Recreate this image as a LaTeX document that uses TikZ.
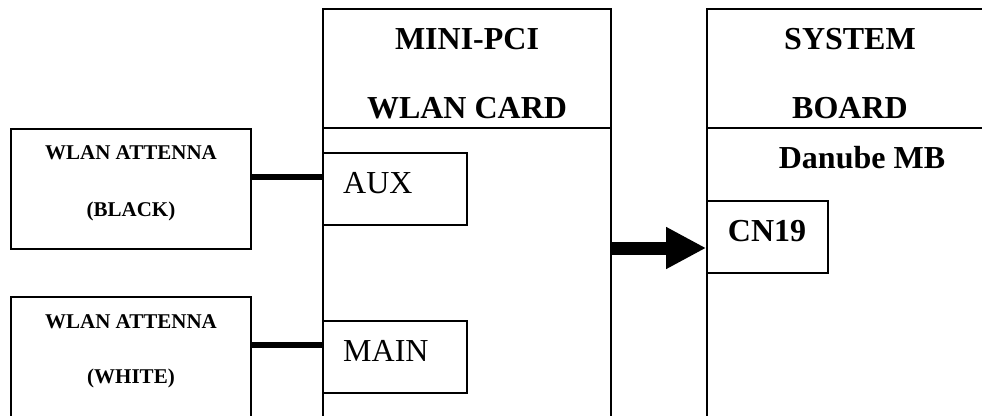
\documentclass[tikz,border=0pt]{standalone}
\usepackage{fontspec}
\setmainfont{Liberation Serif}
\usetikzlibrary{arrows.meta, positioning}

\begin{document}
\begin{tikzpicture}[x=1pt, y=-1pt,
    box/.style={draw, line width=1.6pt, inner sep=0pt},
    antbox/.style={box, minimum width=240pt, minimum height=120pt},
    portbox/.style={box, minimum width=144pt, minimum height=72pt},
    bigtxt/.style={font=\fontsize{32}{38}\selectfont\bfseries, inner sep=0pt},
    porttxt/.style={font=\fontsize{32}{38}\selectfont, inner sep=0pt, anchor=west},
    anttxt/.style={font=\fontsize{21}{25}\selectfont\bfseries, inner sep=0pt},
    cable/.style={line width=6.5pt},
    bus/.style={line width=13pt, -{Triangle[length=40pt, width=39pt]}}]
  \useasboundingbox (0,0) rectangle (982,415);
  \clip (0,0) rectangle (982,415);

  % Mini-PCI card and system board
  \node[box, minimum width=288pt, minimum height=440pt] (card) at (467,229) {};
  \node[box, minimum width=300pt, minimum height=440pt] (board) at (857,229) {};
  \coordinate (hdr) at (0,128);
  \draw[line width=1.6pt] (card.west |- hdr) -- (card.east |- hdr);
  \draw[line width=1.6pt] (board.west |- hdr) -- (board.east |- hdr);
  \node[bigtxt] (cardtop) at (467,39) {MINI-PCI};
  \node[bigtxt] (cardname) at (467,108) {WLAN CARD};
  \node[bigtxt] (boardtop) at (850,39) {SYSTEM};
  \node[bigtxt] (boardname) at (850,108) {BOARD};
  \node[bigtxt] (mbname) at (862,158) {Danube MB};

  % Connectors
  \node[portbox] (aux) at (395,189) {};
  \node[porttxt] (auxtxt) at (343,183) {AUX};
  \node[portbox] (mainport) at (395,357) {};
  \node[porttxt] (maintxt) at (343,351) {MAIN};
  \node[box, minimum width=121pt, minimum height=72pt] (cn19) at (767.5,237) {};
  \node[bigtxt] (cntxt) at (767,231) {CN19};

  % Antennas
  \node[antbox] (blackant) at (131,189) {};
  \node[anttxt] (blacktop) at (131,153) {WLAN ATTENNA};
  \node[anttxt] (blackname) at (131,211) {(BLACK)};
  \node[antbox, minimum height=140pt] (whiteant) at (131,367) {};
  \node[anttxt] (whitetop) at (131,322) {WLAN ATTENNA};
  \node[anttxt] (whitename) at (131,378) {(WHITE)};

  % Cables and bus
  \coordinate (auxpin) at ([yshift=12pt]aux.west);
  \coordinate (mainpin) at ([yshift=12pt]mainport.west);
  \draw[cable] (auxpin -| blackant.east) -- (auxpin);
  \draw[cable] (mainpin -| whiteant.east) -- (mainpin);
  \coordinate (cnpin) at ([yshift=-11pt]cn19.west);
  \draw[bus] (cnpin -| card.east) -- (cnpin);
\end{tikzpicture}
\end{document}
